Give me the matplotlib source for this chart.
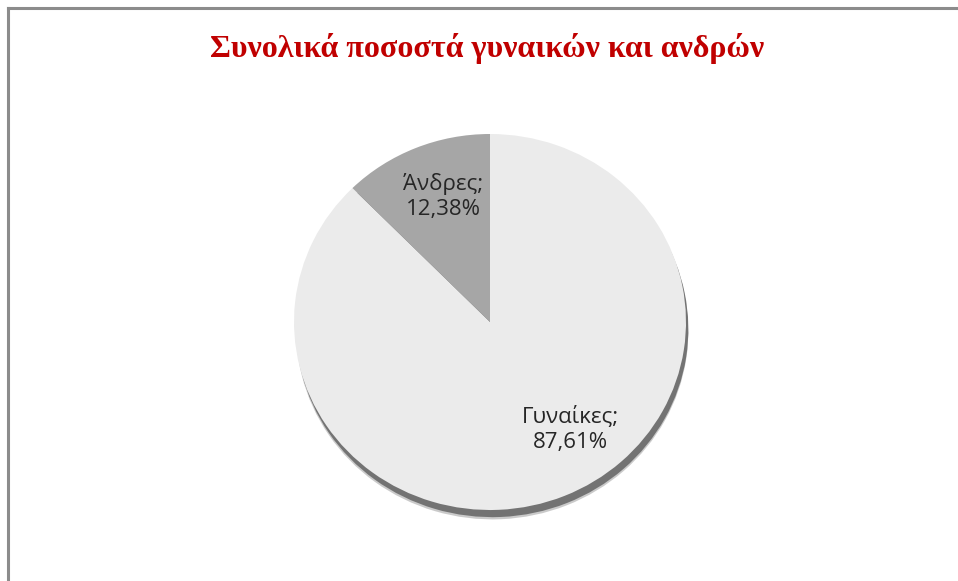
import matplotlib.pyplot as plt
from matplotlib.lines import Line2D

categories = ['Γυναίκες', 'Άνδρες']
values = [87.61, 12.38]
colors = ['#EBEBEB', '#A6A6A6']
title = 'Συνολικά ποσοστά γυναικών και ανδρών'

W, H = 958, 581
fig = plt.figure(figsize=(W / 100, H / 100), dpi=100)

# pie box in pixels (centre x, centre y from top, radii)
cx, cy, rx, ry = 490, 322, 196, 188
ax = fig.add_axes([(cx - rx) / W, (H - cy - ry) / H, 2 * rx / W, 2 * ry / H])

labels = [f'{c};\n{v:.2f}%'.replace('.', ',') for c, v in zip(categories, values)]

# shadow, two layers so it fades a bit
for off, col, a in [(-0.05, '#A0A0A0', 0.55), (-0.038, '#6A6A6A', 0.9)]:
    shadow, _ = ax.pie(values, colors=[col, col], startangle=90,
                       counterclock=False, center=(0.012, off),
                       wedgeprops=dict(linewidth=0, alpha=a))
    for w in shadow:
        w.set_zorder(0)
        w.set_clip_on(False)

wedges, texts = ax.pie(values, colors=colors, labels=labels, startangle=90,
                       counterclock=False, labeldistance=0.7,
                       wedgeprops=dict(linewidth=0),
                       textprops=dict(fontsize=16, color='#262626',
                                      family='Open Sans', ha='center',
                                      va='center', linespacing=1.25))
for w in wedges:
    w.set_zorder(2)
    w.set_clip_on(False)
for t in texts:
    t.set_zorder(3)
texts[0].set_position((0.41, -0.57))
texts[1].set_position((-0.24, 0.665))

ax.set_aspect('auto')
ax.set_xlim(-1, 1)
ax.set_ylim(-1, 1)
ax.axis('off')

fig.text(487 / W, 1 - 48 / H, title, ha='center', va='center',
         fontsize=23, fontweight='bold', color='#C00000',
         family='Liberation Serif')

# frame lines top and left
fig.add_artist(Line2D([8 / W, 1], [1 - 8 / H, 1 - 8 / H], color='#8C8C8C',
                      linewidth=2.2, transform=fig.transFigure))
fig.add_artist(Line2D([8 / W, 8 / W], [0, 1 - 8 / H], color='#8C8C8C',
                      linewidth=2.2, transform=fig.transFigure))

fig.savefig('out.png', dpi=100)
